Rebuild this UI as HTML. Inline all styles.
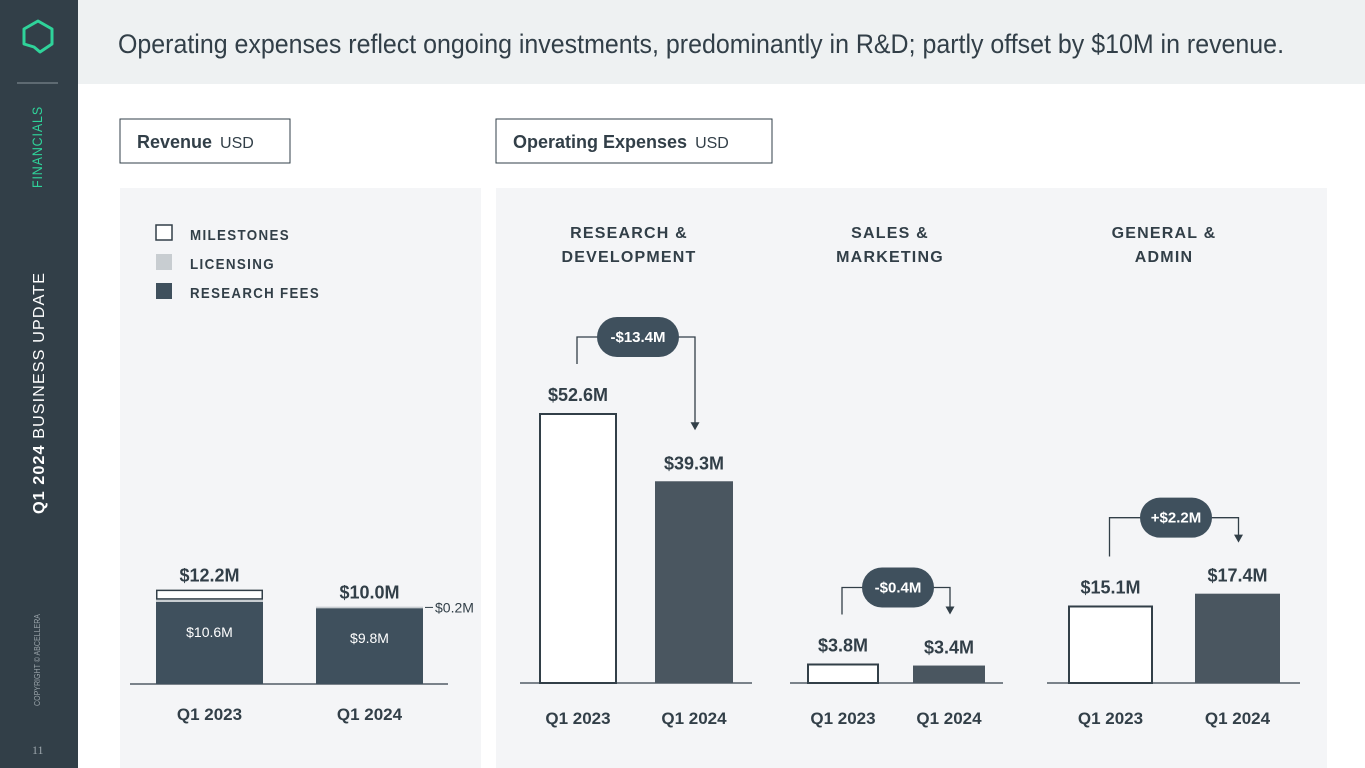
<!DOCTYPE html>
<html><head><meta charset="utf-8">
<style>
html,body{margin:0;padding:0;width:1365px;height:768px;overflow:hidden;background:#fff;font-family:"Liberation Sans",sans-serif;}
svg{display:block}
</style></head><body>
<svg id="page" width="1365" height="768" viewBox="0 0 1365 768" xmlns="http://www.w3.org/2000/svg">
  <rect x="0" y="0" width="1365" height="768" fill="#ffffff"/>
  <rect x="0" y="0" width="78" height="768" fill="#323f48"/>
  <path d="M38 21 L52 29 L52 44 L40 52 L34 47 L24 44 L24 29 Z" fill="none" stroke="#2fd39a" stroke-width="3" stroke-linejoin="round"/>
  <line x1="17" y1="83" x2="58" y2="83" stroke="#8a959c" stroke-width="1"/>
  <text transform="translate(42,188) rotate(-90)" font-size="14" fill="#2fd39a" letter-spacing="1" textLength="82" lengthAdjust="spacingAndGlyphs">FINANCIALS</text>
  <text transform="translate(44,514) rotate(-90)" font-size="16" fill="#ffffff" letter-spacing="1" textLength="242" lengthAdjust="spacingAndGlyphs"><tspan font-weight="bold">Q1 2024</tspan> BUSINESS UPDATE</text>
  <text transform="translate(40,706) rotate(-90)" font-size="8" fill="#9aa4aa" textLength="92" lengthAdjust="spacingAndGlyphs">COPYRIGHT © ABCELLERA</text>
  <text x="32" y="754" font-size="12" fill="#9aa4aa" font-family="Liberation Serif, serif">11</text>

  <rect x="78" y="0" width="1287" height="84" fill="#eef1f2"/>
  <text x="118" y="53" font-size="27" fill="#323f48" textLength="1166" lengthAdjust="spacingAndGlyphs">Operating expenses reflect ongoing investments, predominantly in R&amp;D; partly offset by $10M in revenue.</text>

  <rect x="120" y="119" width="170" height="44" fill="#fff" stroke="#323f48" stroke-width="1"/>
  <text x="137" y="148" font-size="18" fill="#323f48"><tspan font-weight="bold">Revenue</tspan><tspan font-size="16" dx="8">USD</tspan></text>
  <rect x="496" y="119" width="276" height="44" fill="#fff" stroke="#323f48" stroke-width="1"/>
  <text x="513" y="148" font-size="18" fill="#323f48"><tspan font-weight="bold">Operating Expenses</tspan><tspan font-size="16" dx="8">USD</tspan></text>

  <rect x="120" y="188" width="361" height="580" fill="#f4f5f7"/>
  <rect x="496" y="188" width="831" height="580" fill="#f4f5f7"/>

  <g>
    <rect x="156" y="225" width="16" height="15" fill="#fff" stroke="#323f48" stroke-width="1.5"/>
    <text x="190" y="240" font-size="15" font-weight="bold" fill="#323f48" letter-spacing="1.5" textLength="100" lengthAdjust="spacingAndGlyphs">MILESTONES</text>
    <rect x="156" y="254" width="16" height="16" fill="#c8cdd1"/>
    <text x="190" y="269" font-size="15" font-weight="bold" fill="#323f48" letter-spacing="1.5" textLength="85" lengthAdjust="spacingAndGlyphs">LICENSING</text>
    <rect x="156" y="283" width="16" height="16" fill="#3f505d"/>
    <text x="190" y="298" font-size="15" font-weight="bold" fill="#323f48" letter-spacing="1.5" textLength="130" lengthAdjust="spacingAndGlyphs">RESEARCH FEES</text>
  </g>
  <g id="charts"></g>
</svg>
<script>
// Revenue data
const revCategories = ["Q1 2023", "Q1 2024"];
const revResearch = [10.6, 9.8];
const revLicensing = [0.3, 0.2];
const revMilestones = [1.3, 0.0];
const revTotals = ["$12.2M", "$10.0M"];
const revResearchLabels = ["$10.6M", "$9.8M"];
// Opex data
const opexGroups = ["rd", "sm", "ga"];
const opexTitles = [["RESEARCH &", "DEVELOPMENT"], ["SALES &", "MARKETING"], ["GENERAL &", "ADMIN"]];
const opexQ12023 = [52.6, 3.8, 15.1];
const opexQ12024 = [39.3, 3.4, 17.4];
const opexDeltaLabels = ["-$13.4M", "-$0.4M", "+$2.2M"];

const NS = "http://www.w3.org/2000/svg";
const root = document.getElementById("charts");
function mk(tag, attrs, parent, txt) {
  const e = document.createElementNS(NS, tag);
  for (const k in attrs) e.setAttribute(k, attrs[k]);
  if (txt !== undefined) e.textContent = txt;
  (parent || root).appendChild(e);
  return e;
}
const DARK = "#3f505d", INK = "#323f48";
const FONTC = "Liberation Sans, sans-serif";

// Revenue chart
const revBase = 684, revScale = 82 / 10.6;
const yRev = v => v * revScale;
const revX = [156, 316], revW = 107;
let l = mk("line", {x1:130, y1:revBase, x2:448, y2:revBase, stroke:INK, "stroke-width":1.2});


revCategories.forEach((c, i) => {
  const x = revX[i];
  const hR = yRev(revResearch[i]);
  let r = mk("rect", {x:x, y:revBase - hR, width:revW, height:hR, fill:DARK});
  
  
  const hL = yRev(revLicensing[i]);
  let rl = mk("rect", {x:x, y:revBase - hR - hL, width:revW, height:hL, fill:"#c8cdd1"});
  
  
  let top = revBase - hR - hL;
  if (revMilestones[i] > 0) {
    const hM = yRev(revMilestones[i]);
    let rm = mk("rect", {x:x + 0.75, y:top - hM + 0.75, width:revW - 1.5, height:hM - 1.5, fill:"#fff", stroke:INK, "stroke-width":1.5});
    
    
    top -= hM;
  }
  let t = mk("text", {x:x + revW/2, y:top - 8, "text-anchor":"middle", "font-size":18, "font-weight":"bold", fill:INK, "font-family":FONTC}, null, revTotals[i]);
  
  
  let t2 = mk("text", {x:x + revW/2, y:revBase - hR + 35, "text-anchor":"middle", "font-size":14, fill:"#fff", "font-family":FONTC}, null, revResearchLabels[i]);
  
  
  let t3 = mk("text", {x:x + revW/2, y:720, "text-anchor":"middle", "font-size":17, "font-weight":"bold", fill:INK}, null, c);
  
  
  if (i === 1) {
    let ll = mk("line", {x1:x + revW + 2, y1:revBase - hR - hL/2, x2:x + revW + 10, y2:revBase - hR - hL/2, stroke:INK, "stroke-width":1});
    
    
    let lt = mk("text", {x:x + revW + 12, y:revBase - hR - hL/2 + 5, "font-size":14, fill:INK, "font-family":FONTC}, null, "$" + revLicensing[i].toFixed(1) + "M");
    
    
  }
});

// Opex charts
const opexBase = 683, opexScale = 270 / 52.6;
const yOp = v => v * opexScale;
const grpLine = [[520, 752], [790, 1003], [1047, 1300]];
const grpBars = [[[539, 78], [655, 78]], [[807, 72], [913, 72]], [[1068, 85], [1195, 85]]];
const grpTitleX = [629, 890, 1164];
opexGroups.forEach((g, i) => {
  const gl = mk("line", {x1:grpLine[i][0], y1:opexBase, x2:grpLine[i][1], y2:opexBase, stroke:INK, "stroke-width":1.2});
  
  
  opexTitles[i].forEach((s, j) => {
    const tt = mk("text", {x:grpTitleX[i], y:238 + j*24, "text-anchor":"middle", "font-size":16, "font-weight":"bold", fill:INK, "letter-spacing":1.2}, null, s);
    
    
  });
  const vals = [opexQ12023[i], opexQ12024[i]];
  const tops = [];
  vals.forEach((v, k) => {
    const [bx, bw] = grpBars[i][k];
    const h = yOp(v);
    const top = opexBase - h;
    tops.push(top);
    let b;
    if (k === 0) b = mk("rect", {x:bx + 1, y:top + 1, width:bw - 2, height:h - 1, fill:"#fff", stroke:INK, "stroke-width":2});
    else b = mk("rect", {x:bx, y:top, width:bw, height:h, fill:"#4a5660"});
    
    
    const vt = mk("text", {x:bx + bw/2, y:top - 12, "text-anchor":"middle", "font-size":18, "font-weight":"bold", fill:INK, "font-family":FONTC}, null, "$" + v.toFixed(1) + "M");
    
    
    const xt = mk("text", {x:bx + bw/2, y:724, "text-anchor":"middle", "font-size":17, "font-weight":"bold", fill:INK}, null, k === 0 ? "Q1 2023" : "Q1 2024");
    
    
  });
  // delta pill
  const lab0 = tops[0] - 30, lab1 = tops[1] - 30;
  const pillY = Math.min(lab0, lab1) - 46;
  const x0 = grpBars[i][0][0] + grpBars[i][0][1] / 2 - 1;
  const x1 = grpBars[i][1][0] + grpBars[i][1][1] / 2 + 1;
  const pc = (x0 + x1) / 2 + 2;
  const pw = opexDeltaLabels[i].length * 10 + 12;
  const br = mk("path", {d:`M${x0} ${lab0 - 19} V${pillY} H${x1} V${lab1 - 28}`, fill:"none", stroke:INK, "stroke-width":1.3});
  
  
  const ar = mk("path", {d:`M${x1 - 4.5} ${lab1 - 29} L${x1 + 4.5} ${lab1 - 29} L${x1} ${lab1 - 21} Z`, fill:INK});
  
  
  const pr = mk("rect", {x:pc - pw/2, y:pillY - 20, width:pw, height:40, rx:20, fill:"#3f505d"});
  
  
  const pt = mk("text", {x:pc, y:pillY + 5, "text-anchor":"middle", "font-size":15, "font-weight":"bold", fill:"#fff", "font-family":FONTC}, null, opexDeltaLabels[i]);
  
  
});
</script>
</body></html>
